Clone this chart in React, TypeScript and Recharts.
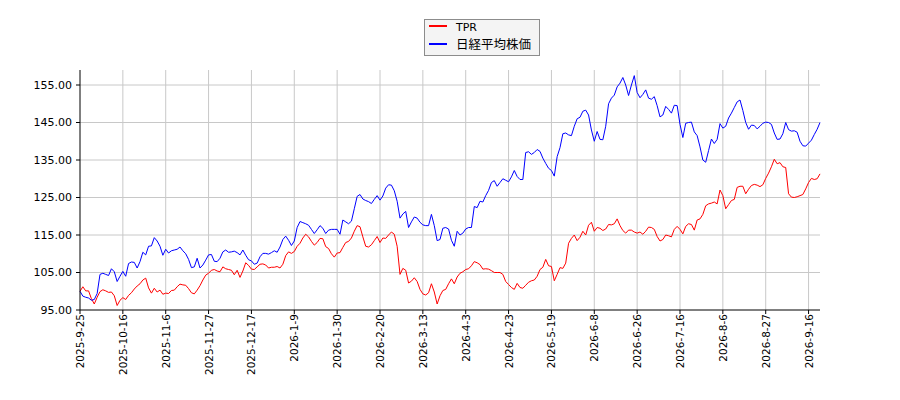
import React from "react";
import {
  LineChart,
  Line,
  XAxis,
  YAxis,
  ReferenceLine,
  Legend,
} from "recharts";

// x positions are trading-day indices; labels sit every 15 sessions
const tickIndex = [0, 15, 30, 45, 60, 75, 90, 105, 120, 135, 150, 165, 180, 195, 210, 225, 240, 255];
const tickLabels = [
  "2025-9-25", "2025-10-16", "2025-11-6", "2025-11-27", "2025-12-17", "2026-1-9",
  "2026-1-30", "2026-2-20", "2026-3-13", "2026-4-3", "2026-4-23", "2026-5-19",
  "2026-6-8", "2026-6-26", "2026-7-16", "2026-8-6", "2026-8-27", "2026-9-16",
];
const yTicks = [95, 105, 115, 125, 135, 145, 155];

const tprValues = [
  100.0, 101.2, 100.1, 100.1, 98.0, 96.6, 98.4, 99.9, 100.4, 100.1,
  99.7, 99.8, 98.8, 96.2, 97.6, 98.3, 97.8, 98.9, 99.6, 100.6,
  101.4, 102.0, 103.0, 103.5, 100.9, 99.5, 100.8, 99.8, 100.3, 99.2,
  99.5, 99.4, 100.2, 100.3, 101.2, 101.9, 101.7, 101.6, 100.7, 99.6,
  99.3, 100.3, 101.5, 103.0, 104.3, 104.8, 105.6, 105.8, 105.4, 105.2,
  106.5, 106.0, 105.8, 105.6, 104.4, 105.6, 103.7, 105.4, 107.6, 106.9,
  105.9, 105.8, 106.5, 107.2, 107.3, 107.0, 106.2, 106.4, 106.4, 106.6,
  106.2, 107.2, 109.5, 110.5, 110.1, 110.6, 112.0, 112.8, 114.2, 115.2,
  114.5, 113.3, 112.3, 113.0, 114.1, 114.0, 111.9, 111.4, 110.0, 109.1,
  110.2, 110.3, 111.7, 113.0, 113.3, 114.2, 116.0, 117.5, 117.2, 114.5,
  112.0, 111.8, 112.4, 113.5, 114.6, 113.0, 114.2, 114.1, 115.0, 115.8,
  115.2, 112.0, 104.5, 106.1, 105.6, 102.2, 102.7, 103.6, 102.6, 100.5,
  99.3, 99.0, 99.6, 102.0, 99.8, 96.6, 98.8, 100.2, 100.5, 102.0,
  103.3, 102.0, 103.8, 104.8, 105.2, 105.8, 106.0, 106.8, 107.9, 107.6,
  107.1, 105.9, 106.0, 105.9, 105.5, 105.0, 105.0, 105.0, 104.5, 102.6,
  101.8, 101.0, 100.5, 102.1, 101.0, 100.8, 101.6, 102.4, 102.8, 103.0,
  104.0, 105.8, 106.4, 108.5, 106.8, 106.6, 102.8, 104.5, 106.3, 106.1,
  107.5, 112.8, 114.1, 115.0, 113.5, 114.4, 116.0, 115.0, 117.6, 118.4,
  116.0, 117.0, 116.8, 116.2, 116.6, 117.8, 117.7, 118.0, 119.3, 117.5,
  116.2, 115.5, 116.3, 116.3, 115.8, 115.5, 115.8, 115.2, 116.0, 117.1,
  117.0, 116.5, 114.6, 113.4, 113.8, 115.0, 114.8, 114.5, 116.5, 117.3,
  116.5, 115.3, 117.3, 118.0, 117.8, 116.3, 119.0, 119.3, 120.5, 122.8,
  123.3, 123.5, 123.8, 123.3, 127.0, 125.5, 122.0, 123.1, 124.2, 124.5,
  127.7, 128.0, 128.0, 126.0, 127.2, 128.2, 128.5, 128.3, 127.9, 128.4,
  130.1, 131.5, 133.2, 135.2, 134.0, 134.3, 133.2, 133.0, 126.0, 125.1,
  125.0, 125.2, 125.5, 125.8, 127.3, 129.0, 130.1, 129.8, 130.0, 131.3,
];

const nikkeiValues = [
  100.0, 98.7, 98.4, 98.2, 97.6, 97.8, 99.4, 104.5, 104.8, 104.5,
  104.2, 106.0, 105.2, 102.6, 104.0, 105.3, 104.0, 107.4, 107.8, 107.7,
  106.2, 107.9, 110.4, 109.7, 112.0, 112.1, 114.3, 113.4, 112.0, 109.6,
  111.2, 110.2, 110.8, 111.0, 111.2, 111.8, 110.8, 110.0, 108.5, 106.3,
  106.5, 108.8, 106.2, 107.0, 108.3, 109.7, 109.8, 108.0, 107.9, 108.8,
  110.5, 111.0, 110.4, 110.5, 110.7, 110.3, 109.7, 111.0, 109.6, 108.4,
  108.1, 107.2, 107.5, 109.2, 110.1, 110.1, 109.9, 110.3, 110.8, 110.4,
  111.8, 113.8, 114.7, 113.6, 112.2, 113.4, 117.0, 118.6, 118.3, 118.0,
  117.6, 116.5, 115.4, 116.4, 117.5, 116.8, 115.4, 116.3, 116.5, 116.5,
  116.5, 115.2, 119.0, 118.5, 118.0, 118.7, 122.0, 125.3, 125.8, 124.6,
  124.2, 123.9, 123.4, 124.5, 125.5, 124.3, 125.4, 127.5, 128.4, 128.3,
  126.8, 124.0, 119.5, 120.6, 121.3, 117.0, 118.5, 119.8, 119.5, 118.4,
  117.7, 117.5, 117.5, 120.5, 117.5, 113.5, 113.8, 116.8, 117.0, 116.6,
  113.6, 112.0, 116.0, 115.0, 115.5, 116.6, 117.0, 117.0, 122.6, 122.3,
  124.0, 123.8, 125.5, 126.9, 129.0, 129.5, 128.0, 129.0, 130.0, 129.6,
  129.2, 130.5, 132.2, 130.6, 129.8, 129.8, 137.0, 137.2, 136.5, 137.0,
  137.8, 137.3, 135.5, 134.1, 132.8, 132.2, 130.7, 135.9, 138.3, 142.0,
  142.2, 141.7, 141.5, 144.0, 146.0, 146.4, 148.0, 148.3, 147.0, 143.0,
  140.0, 142.6, 140.5, 140.4, 144.0, 150.0, 151.5, 152.3, 154.5, 155.5,
  157.0, 155.0, 152.2, 155.0, 157.5, 153.0, 151.6, 152.5, 153.7, 151.5,
  151.2, 151.9, 149.5, 146.5, 147.0, 149.3, 148.5, 147.5, 149.6, 149.5,
  144.5, 141.0, 144.8, 145.0, 145.1, 142.5, 141.5, 138.5, 135.0, 134.4,
  137.5, 140.6, 139.4, 140.5, 144.7, 143.5, 144.0, 146.2, 147.5, 149.0,
  150.5, 151.0, 148.2, 145.0, 143.2, 144.3, 144.2, 143.3, 144.0, 144.8,
  145.1, 145.0, 144.5, 142.2, 140.5, 140.6, 142.0, 145.0, 143.1, 142.7,
  142.8, 142.4, 140.0, 138.8, 138.7, 139.5, 140.3, 141.8, 143.2, 145.0,
];

const data = tprValues.map((tpr, i) => ({ i, tpr, nikkei: nikkeiValues[i] }));

const FONT = "'DejaVu Sans', 'Noto Sans CJK JP', sans-serif";
const GRID = "#c8c8c8";

function DateTick({ x, y, payload }: any) {
  const label = tickLabels[tickIndex.indexOf(payload.value)] ?? "";
  return (
    <text
      x={x}
      y={y}
      transform={`rotate(-90, ${x}, ${y})`}
      textAnchor="end"
      dominantBaseline="central"
      fontSize={10.5}
      fontFamily={FONT}
      fill="#000"
    >
      {label}
    </text>
  );
}

function LegendBox({ payload }: any) {
  const rows = payload ?? [];
  return (
    <div
      style={{
        position: "relative",
        width: 116,
        height: 37,
        boxSizing: "border-box",
        border: "1px solid #8c8c8c",
        background: "#f4f4f4",
        fontFamily: FONT,
        color: "#000",
      }}
    >
      {rows.map((item: any, k: number) => {
        const cy = k === 0 ? 5.7 : 24.3;
        const isLatin = /^[A-Za-z0-9 ]+$/.test(item.value);
        return (
          <React.Fragment key={item.value}>
            <div
              style={{
                position: "absolute",
                left: 4,
                top: cy - 1,
                width: 18,
                height: 2,
                background: item.color,
              }}
            />
            <span
              style={{
                position: "absolute",
                left: 31,
                top: cy + 1,
                transform: "translateY(-50%)",
                fontSize: isLatin ? 11 : 12.5,
                lineHeight: 1,
                whiteSpace: "nowrap",
              }}
            >
              {item.value}
            </span>
          </React.Fragment>
        );
      })}
    </div>
  );
}

export default function App() {
  return (
    <div style={{ position: "absolute", left: 0, top: 0, width: 900, height: 400, background: "#fff" }}>
      <LineChart width={900} height={400} data={data} margin={{ top: 70, right: 80, left: 0, bottom: 0 }}>
        <XAxis
          dataKey="i"
          type="number"
          domain={[0, 259]}
          ticks={tickIndex}
          interval={0}
          height={90}
          tick={<DateTick />}
          tickSize={4}
          tickMargin={0}
          axisLine={{ stroke: "#000" }}
          tickLine={{ stroke: "#000" }}
        />
        <YAxis
          type="number"
          domain={[95, 159]}
          ticks={yTicks}
          interval={0}
          width={80}
          tickSize={4}
          tickMargin={4}
          tickFormatter={(v: number) => v.toFixed(2)}
          tick={{ fontSize: 11, fill: "#000", fontFamily: FONT }}
          axisLine={{ stroke: "#000" }}
          tickLine={{ stroke: "#000" }}
        />
        {yTicks.slice(1).map((t) => (
          <ReferenceLine key={`gy-${t}`} y={t} stroke={GRID} strokeWidth={1} />
        ))}
        {tickIndex.slice(1).map((t) => (
          <ReferenceLine key={`gx-${t}`} x={t} stroke={GRID} strokeWidth={1} />
        ))}
        <Legend
          layout="horizontal"
          verticalAlign="middle"
          align="center"
          wrapperStyle={{ position: "absolute", left: 424, top: 19, width: 116, height: 37 }}
          content={<LegendBox />}
        />
        <Line
          type="linear"
          dataKey="tpr"
          name="TPR"
          stroke="#ff0000"
          strokeWidth={1}
          dot={false}
          isAnimationActive={false}
        />
        <Line
          type="linear"
          dataKey="nikkei"
          name="日経平均株価"
          stroke="#0000ff"
          strokeWidth={1}
          dot={false}
          isAnimationActive={false}
        />
      </LineChart>
    </div>
  );
}
